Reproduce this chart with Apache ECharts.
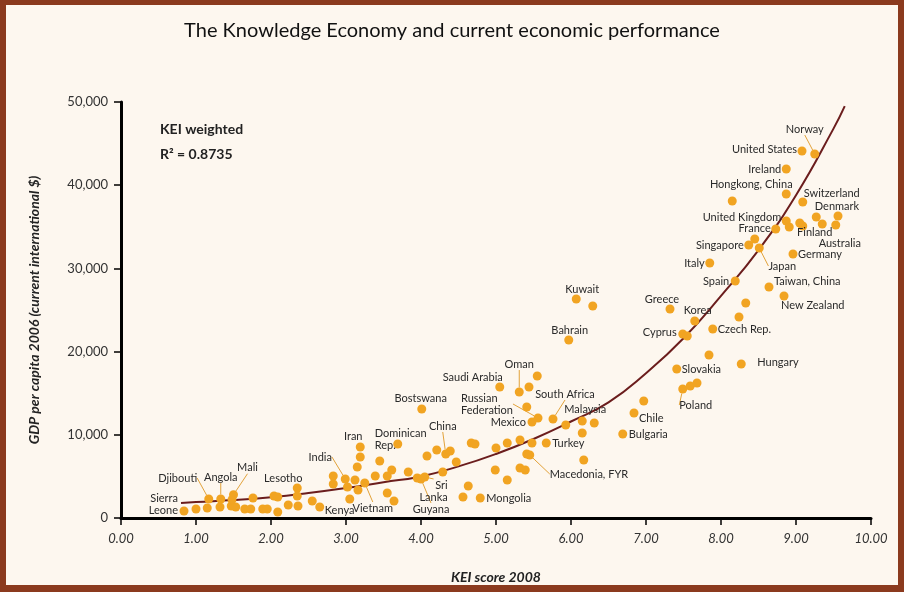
<!DOCTYPE html>
<html>
<head>
<meta charset="utf-8">
<script src="https://cdn.jsdelivr.net/npm/echarts@6/dist/echarts.min.js"></script>
<style>
  html, body { margin: 0; padding: 0; }
  #wrap { position: relative; width: 904px; height: 592px; }
  #chart { width: 904px; height: 592px; }
  #frame {
    position: absolute; left: 0; top: 0; width: 904px; height: 592px;
    box-sizing: border-box; border: solid #8b3a1e;
    border-width: 5px 6px 7px 6px; pointer-events: none;
  }
</style>
</head>
<body>
<div id="wrap">
  <div id="chart"></div>
  <div id="frame"></div>
</div>
<script>
// KEI score 2008 (x) and GDP per capita 2006 (y)
var kei = [
  0.84, 1.00, 1.15, 1.32, 1.47, 1.53, 1.65, 1.73, 1.89, 1.95, 2.09, 2.23, 2.36, 2.55, 2.65,
  1.17, 1.33, 1.50, 1.48, 1.76, 2.04, 2.09, 2.35, 2.35,
  2.83, 2.83, 2.99, 3.02, 3.12, 3.15, 3.19, 3.19, 3.16, 3.25, 3.05,
  3.45, 3.39, 3.55, 3.61, 3.69, 3.55, 3.64, 3.83, 3.95, 4.00, 4.05, 4.01,
  4.08, 4.21, 4.33, 4.39, 4.47, 4.29, 4.67, 4.72, 4.63, 4.56, 4.79,
  4.99, 5.00, 5.15, 5.15, 5.32, 5.32, 5.39, 5.41, 5.45, 5.48, 5.67,
  5.48, 5.56, 5.41, 5.76, 5.93, 6.15, 6.31, 6.15, 6.17,
  5.05, 5.31, 5.44, 5.55, 5.97, 6.07, 6.29,
  6.69, 6.84, 6.97, 7.32, 7.49, 7.55, 7.65, 7.89, 7.84, 7.41, 7.49, 7.59, 7.68,
  8.27, 8.24, 8.33, 8.19, 8.64, 8.84, 7.85, 8.37, 8.45, 8.51, 8.96,
  8.73, 8.87, 8.91, 9.05, 9.09, 9.27, 9.35, 9.56, 9.53, 9.09, 8.15, 8.87, 8.87, 9.08, 9.25
];
var gdp = [
  840, 1080, 1200, 1320, 1440, 1320, 1080, 1080, 1080, 1080, 720, 1560, 1440, 2040, 1320,
  2280, 2280, 2800, 2200, 2400, 2640, 2520, 3600, 2640,
  5050, 4090, 4690, 3730, 4570, 6130, 7330, 8530, 3370, 4210, 2280,
  6850, 5050, 5050, 5770, 8890, 3000, 2040, 5530, 4810, 4690, 4930, 13100,
  7450, 8170, 7690, 8050, 6730, 5530, 9010, 8890, 3850, 2520, 2400,
  5770, 8410, 9010, 4570, 9370, 6010, 5770, 7690, 7570, 9010, 9010,
  11540, 12020, 13340, 11900, 11180, 11660, 11420, 10220, 6970,
  15750, 15140, 15750, 17070, 21390, 26320, 25480,
  10100, 12620, 14060, 25120, 22110, 21870, 23680, 22720, 19590, 17910, 15500, 15870, 16230,
  18510, 24160, 25840, 28480, 27760, 26680, 30650, 32810, 33530, 32450, 31730,
  34730, 35700, 34970, 35460, 35100, 36180, 35340, 36300, 35220, 37980, 38100, 38940, 41950, 44110, 43750
];
var countries = [
  'Sierra\nLeone', '', '', '', '', '', '', '', '', '', '', '', '', '', 'Kenya',
  'Djibouti', 'Angola', 'Mali', '', '', '', '', 'Lesotho', '',
  '', '', 'India', '', '', '', '', 'Iran', '', 'Vietnam', '',
  '', '', '', '', 'Dominican\nRep.', '', '', '', '', 'Guyana', 'Sri\nLanka', 'Bostswana',
  '', '', 'China', '', '', '', '', '', '', '', 'Mongolia',
  '', '', '', '', '', '', '', '', 'Macedonia, FYR', '', 'Turkey',
  'Mexico', 'Russian\nFederation', '', 'South Africa', '', 'Malaysia', '', '', '',
  'Saudi Arabia', 'Oman', '', '', 'Bahrain', 'Kuwait', '',
  'Bulgaria', 'Chile', '', 'Greece', 'Cyprus', '', 'Korea', 'Czech Rep.', '', 'Slovakia', 'Poland', '', '',
  'Hungary', '', '', 'Spain', 'Taiwan, China', 'New Zealand', 'Italy', 'Singapore', '', 'Japan', 'Germany',
  'France', 'United Kingdom', '', 'Finland', '', '', '', 'Denmark', 'Australia', 'Switzerland', '', 'Hongkong, China', 'Ireland', 'United States', 'Norway'
];

// fitted curve
var trendKei = [0.8, 1, 1.5, 2, 2.5, 3, 3.5, 4, 4.5, 5, 5.5, 6, 6.5, 7, 7.5, 8, 8.5, 9, 9.5, 9.65];
var trendGdp = [1800, 1920, 2150, 2500, 3000, 3600, 4300, 5000, 6200, 7700, 9500, 11600, 13900, 17400, 21600, 26700, 32200, 38800, 46800, 49500];

// label offset from the dot: [dx, dy, align, leader line]
var placement = {
  'Sierra\nLeone': [-6, -7, 'right'],
  'Djibouti': [-31, -21, 'center', true],
  'Angola': [0, -22, 'center', true],
  'Mali': [14, -27, 'center', true],
  'Lesotho': [-14, -10, 'center'],
  'India': [-25, -22, 'center', true],
  'Kenya': [5, 3, 'left'],
  'Iran': [-7, -11, 'center'],
  'Vietnam': [8, 25, 'center', true],
  'Dominican\nRep.': [-23, -5, 'left'],
  'Bostswana': [-1, -11, 'center'],
  'China': [-3, -28, 'center', true],
  'Sri\nLanka': [23, 14, 'right', true],
  'Guyana': [10, 30, 'center', true],
  'Mongolia': [6, 0, 'left'],
  'Saudi Arabia': [-27, -10, 'center'],
  'Oman': [0, -28, 'center', true],
  'Russian\nFederation': [-77, -14, 'left', true],
  'Mexico': [-6, 0, 'right'],
  'South Africa': [12, -25, 'center', true],
  'Malaysia': [3, -12, 'center'],
  'Turkey': [6, 0, 'left'],
  'Macedonia, FYR': [20, 19, 'left', true],
  'Kuwait': [6, -10, 'center'],
  'Bahrain': [1, -10, 'center'],
  'Chile': [5, 5, 'left'],
  'Bulgaria': [6, 0, 'left'],
  'Greece': [-8, -10, 'center'],
  'Korea': [3, -11, 'center'],
  'Cyprus': [-6, -2, 'right'],
  'Czech Rep.': [5, 0, 'left'],
  'Slovakia': [5, 0, 'left'],
  'Poland': [13, 16, 'center', true],
  'Hungary': [16, -2, 'left'],
  'Spain': [-6, 0, 'right'],
  'Taiwan, China': [5, -6, 'left'],
  'New Zealand': [-3, 9, 'left'],
  'Italy': [-5, 0, 'right'],
  'Singapore': [-5, 0, 'right'],
  'Japan': [23, 18, 'center', true],
  'Germany': [5, 0, 'left'],
  'France': [-5, -1, 'right'],
  'United Kingdom': [-5, -4, 'right'],
  'Finland': [15, 9, 'center'],
  'Australia': [4, 18, 'center'],
  'Denmark': [-1, -10, 'center'],
  'Switzerland': [29, -9, 'center'],
  'Hongkong, China': [-35, -10, 'center'],
  'Ireland': [-5, 0, 'right'],
  'United States': [-5, -2, 'right'],
  'Norway': [-10, -25, 'center', true]
};

var chart = echarts.init(document.getElementById('chart'));

var points = kei.map(function (x, i) {
  var pl = placement[countries[i]];
  return {
    value: [x, gdp[i]],
    name: countries[i],
    labelLine: { show: !!(pl && pl[3]) }
  };
});

var option = {
  backgroundColor: '#fdf7ef',
  animation: false,
  title: {
    text: 'The Knowledge Economy and current economic performance',
    left: 'center',
    top: 16,
    textStyle: { fontFamily: 'Lato', fontSize: 20, fontWeight: 'normal', color: '#111' }
  },
  grid: { left: 121, right: 33, top: 102, bottom: 74 },
  xAxis: {
    type: 'value',
    min: 0, max: 10, interval: 1,
    name: 'KEI score 2008',
    nameLocation: 'middle',
    nameGap: 52,
    nameTextStyle: { fontFamily: 'Lato', fontSize: 14, fontWeight: 'bold', fontStyle: 'italic', color: '#222' },
    axisLine: { lineStyle: { color: '#000', width: 3 } },
    axisTick: { length: 7, lineStyle: { color: '#000', width: 1.5 } },
    axisLabel: {
      margin: 14, fontFamily: 'Lato', fontSize: 13, fontStyle: 'italic', color: '#333',
      formatter: function (v) { return v.toFixed(2); }
    },
    splitLine: { show: false }
  },
  yAxis: {
    type: 'value',
    min: 0, max: 50000, interval: 10000,
    name: 'GDP per capita 2006 (current international $)',
    nameLocation: 'middle',
    nameGap: 80,
    nameTextStyle: { fontFamily: 'Lato', fontSize: 14, fontWeight: 'bold', fontStyle: 'italic', color: '#222' },
    axisLine: { show: true, lineStyle: { color: '#000', width: 3 } },
    axisTick: { show: true, length: 7, lineStyle: { color: '#000', width: 1.5 } },
    axisLabel: {
      margin: 13, fontFamily: 'Lato', fontSize: 13, color: '#333',
      formatter: function (v) { return v.toLocaleString('en-US'); }
    },
    splitLine: { show: false }
  },
  graphic: [
    { type: 'text', left: 160, top: 122, style: { text: 'KEI weighted', font: 'bold 14px Lato', fill: '#222' } },
    { type: 'text', left: 160, top: 147, style: { text: 'R² = 0.8735', font: 'bold 14px Lato', fill: '#222' } }
  ],
  series: [
    {
      type: 'line',
      data: trendKei.map(function (x, i) { return [x, trendGdp[i]]; }),
      smooth: true,
      symbol: 'none',
      lineStyle: { color: '#6b1d1d', width: 2 },
      z: 1
    },
    {
      type: 'scatter',
      data: points,
      symbolSize: 9,
      itemStyle: { color: '#f1a422', opacity: 1 },
      label: {
        show: true,
        formatter: function (p) { return p.name; },
        fontFamily: 'Lato', fontSize: 11, color: '#2a2a2a', lineHeight: 12
      },
      labelLine: { lineStyle: { color: '#e2a23a', width: 1 } },
      labelLayout: function (p) {
        var pl = placement[countries[p.dataIndex]];
        if (!pl) return {};
        var cx = p.rect.x + p.rect.width / 2;
        var cy = p.rect.y + p.rect.height / 2;
        return { x: cx + pl[0], y: cy + pl[1], align: pl[2], verticalAlign: 'middle' };
      },
      z: 2
    }
  ]
};

chart.setOption(option);
</script>
</body>
</html>
